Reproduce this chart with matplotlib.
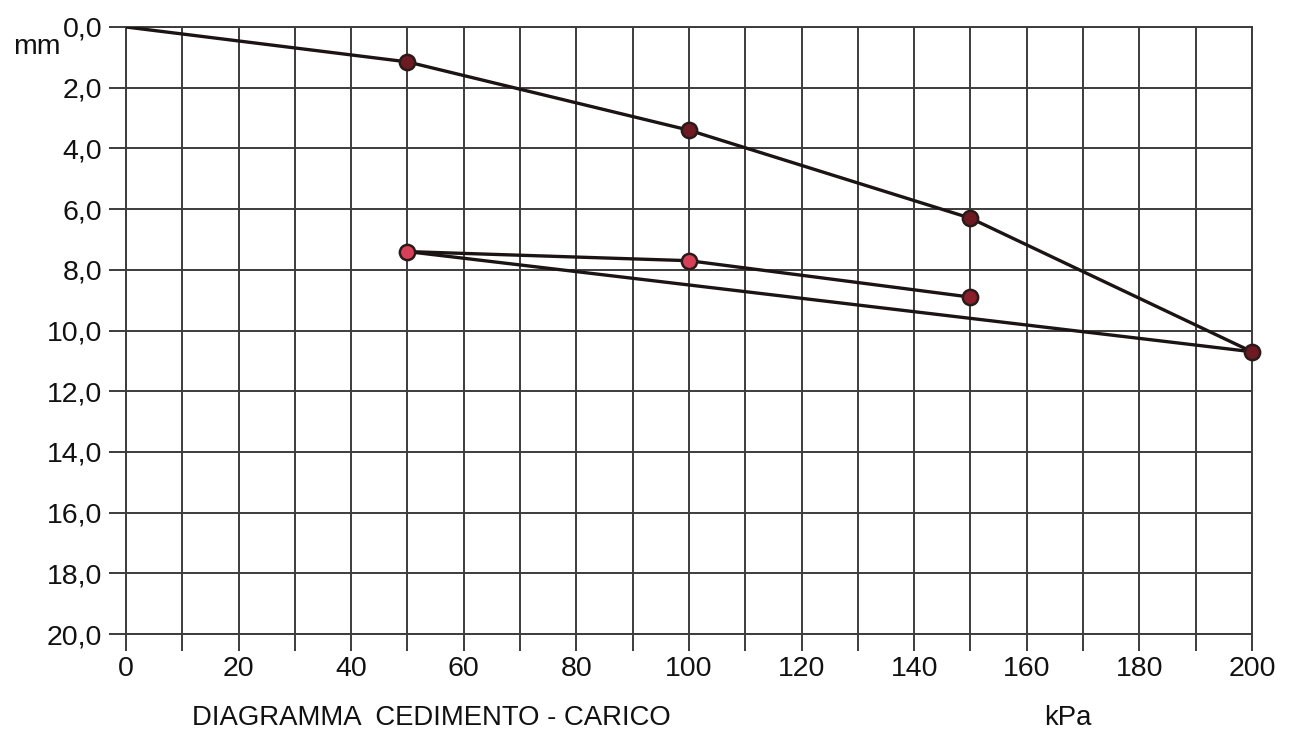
import matplotlib
matplotlib.use("Agg")
import matplotlib.pyplot as plt
from matplotlib.ticker import MultipleLocator, FixedLocator

# Data (kPa, mm)
load_x = [0, 50, 100, 150, 200]
load_y = [0.0, 1.15, 3.4, 6.3, 10.7]
unload_x = [200, 50]
unload_y = [10.7, 7.4]
reload_x = [50, 100, 150]
reload_y = [7.4, 7.7, 8.9]

x_ticks = [0, 20, 40, 60, 80, 100, 120, 140, 160, 180, 200]
y_ticks = [0, 2, 4, 6, 8, 10, 12, 14, 16, 18, 20]
y_labels = ["0,0", "2,0", "4,0", "6,0", "8,0", "10,0", "12,0", "14,0", "16,0", "18,0", "20,0"]

plt.rcParams['font.family'] = ['Liberation Sans', 'DejaVu Sans']

fig = plt.figure(figsize=(12.89, 7.32), dpi=100)
ax = fig.add_axes([126/1289, 1-634/732, (1252-126)/1289, (634-27)/732])

gridc = "#3c3c3c"
fs = 20.5
ax.set_xlim(0, 200)
ax.set_ylim(20, 0)
ax.xaxis.set_major_locator(FixedLocator(x_ticks))
ax.xaxis.set_minor_locator(MultipleLocator(10))
ax.set_yticks(y_ticks)
ax.set_yticklabels(y_labels)
ax.grid(True, which='major', color=gridc, linewidth=1.4)
ax.grid(True, which='minor', axis='x', color=gridc, linewidth=1.4)
ax.tick_params(axis='both', which='both', direction='out', length=12, width=1.4,
               color=gridc, labelsize=fs, labelcolor='#111111')
ax.tick_params(axis='x', which='major', pad=4)
ax.tick_params(axis='y', which='major', pad=5)
for s in ax.spines.values():
    s.set_color(gridc)
    s.set_linewidth(1.4)
ax.set_axisbelow(True)

linec = "#1c1414"
ax.plot(load_x, load_y, color=linec, lw=2.4, zorder=3)
ax.plot(unload_x, unload_y, color=linec, lw=2.4, zorder=3)
ax.plot(reload_x, reload_y, color=linec, lw=2.4, zorder=3)

ax.plot(load_x[1:], load_y[1:], 'o', ms=11, mfc="#6e1a22", mec="#2a1a1a", mew=1.8, zorder=4, clip_on=False)
ax.plot(reload_x[:2], reload_y[:2], 'o', ms=11, mfc="#d8405a", mec="#2a1a1a", mew=1.8, zorder=4, clip_on=False)
ax.plot(reload_x[2:], reload_y[2:], 'o', ms=11, mfc="#8a1e2a", mec="#2a1a1a", mew=1.8, zorder=4, clip_on=False)

fig.text(37/1289, 1-47/732, "mm", fontsize=fs, ha='center', va='center', color='#111111')
fig.text(192/1289, 1-725/732, "DIAGRAMMA  CEDIMENTO - CARICO", fontsize=19.8, ha='left', va='baseline', color='#111111')
fig.text(1068/1289, 1-725/732, "kPa", fontsize=19.8, ha='center', va='baseline', color='#111111')

fig.savefig("out.png", dpi=100, facecolor='white')
